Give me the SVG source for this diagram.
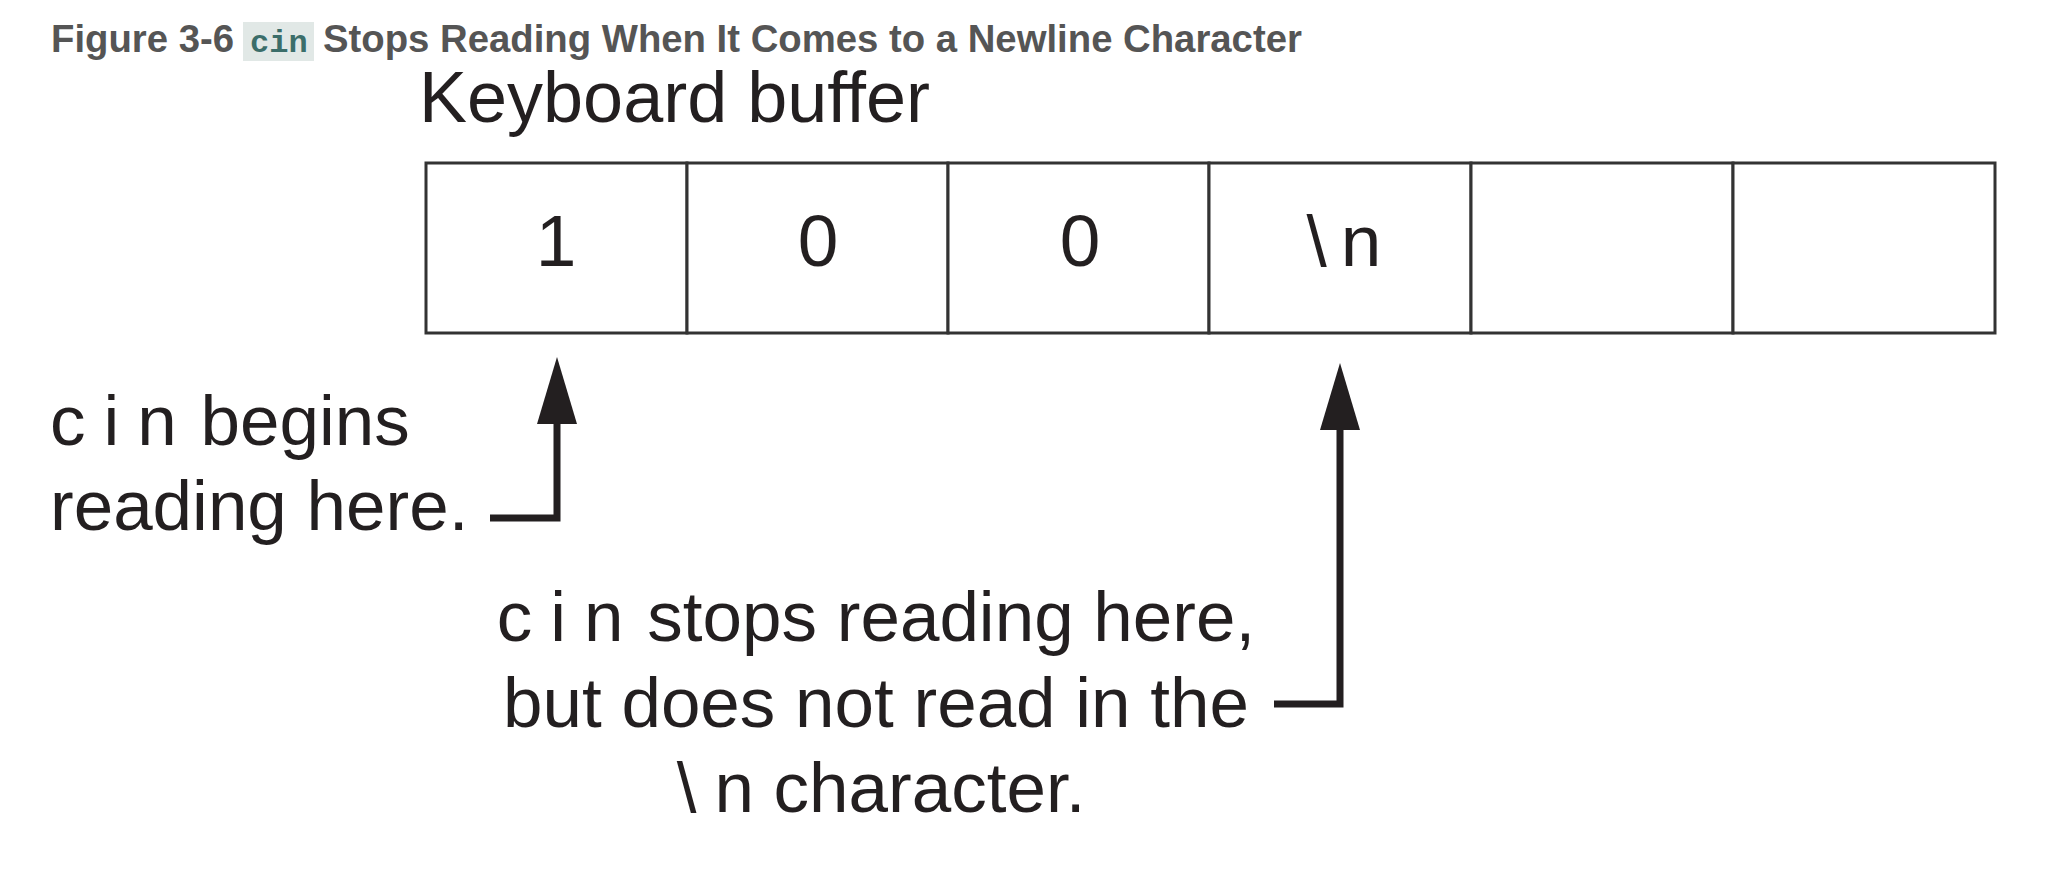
<svg xmlns="http://www.w3.org/2000/svg" width="2054" height="884" viewBox="0 0 2054 884">
<style>
.title{font-family:"Liberation Sans",Arial,sans-serif;font-weight:bold;font-size:38.3px;fill:#555555}
.code{font-family:"Liberation Mono","Courier New",monospace;font-weight:bold;font-size:32px;fill:#3b6e6a}
.lbl{font-family:"Liberation Sans",Arial,sans-serif;font-size:71px;fill:#231f20}
.sp{letter-spacing:18px}
.sn{letter-spacing:4px}
.cell{fill:#ffffff;stroke:#333333;stroke-width:3}
.cellt{font-family:"Liberation Sans",Arial,sans-serif;font-size:73px;fill:#231f20;text-anchor:middle}
.conn{fill:none;stroke:#231f20;stroke-width:7;stroke-linejoin:miter;marker-end:url(#head)}
</style>
<defs>
<marker id="head" markerUnits="userSpaceOnUse" markerWidth="68" markerHeight="40" refX="0" refY="20" orient="auto" viewBox="0 0 68 40">
<path d="M0,0 L67,20 L0,40 Z" fill="#231f20"/>
</marker>
</defs>
<rect width="2054" height="884" fill="#ffffff"/>
<g id="title">
<rect x="243" y="22" width="71" height="39" fill="#e1e8e6"/>
<text class="title" x="51" y="52">Figure 3-6 <tspan class="code" x="250">cin</tspan><tspan x="323">Stops Reading When It Comes to a Newline Character</tspan></text>
</g>
<g id="buffer-label"><text class="lbl" x="419" y="122" style="font-size:72px">Keyboard buffer</text></g>
<g id="buffer">
<g id="cell1"><rect class="cell" x="426" y="163" width="261" height="170"/><text class="cellt" x="556" y="266">1</text></g>
<g id="cell2"><rect class="cell" x="687" y="163" width="261" height="170"/><text class="cellt" x="818" y="266">0</text></g>
<g id="cell3"><rect class="cell" x="948" y="163" width="261" height="170"/><text class="cellt" x="1080" y="266">0</text></g>
<g id="cell4"><rect class="cell" x="1209" y="163" width="262" height="170"/><text class="cellt" x="1344" y="266"><tspan style="letter-spacing:14px">\</tspan>n</text></g>
<g id="cell5"><rect class="cell" x="1471" y="163" width="262" height="170"/></g>
<g id="cell6"><rect class="cell" x="1733" y="163" width="262" height="170"/></g>
</g>
<g id="label-begin">
<text class="lbl" x="50" y="445"><tspan class="sp">ci</tspan><tspan class="sn">n</tspan> begins</text>
<text class="lbl" x="50" y="530">reading here.</text>
</g>
<g id="label-stop">
<text class="lbl" x="876" y="641" text-anchor="middle"><tspan class="sp">ci</tspan><tspan class="sn">n</tspan> stops reading here,</text>
<text class="lbl" x="876" y="727" text-anchor="middle">but does not read in the</text>
<text class="lbl" x="881" y="812" text-anchor="middle"><tspan class="sp">\</tspan>n character.</text>
</g>
<g id="connectors">
<path class="conn" d="M490,518 H557 V424"/>
<path class="conn" d="M1274,704 H1340 V430"/>
</g>
</svg>
